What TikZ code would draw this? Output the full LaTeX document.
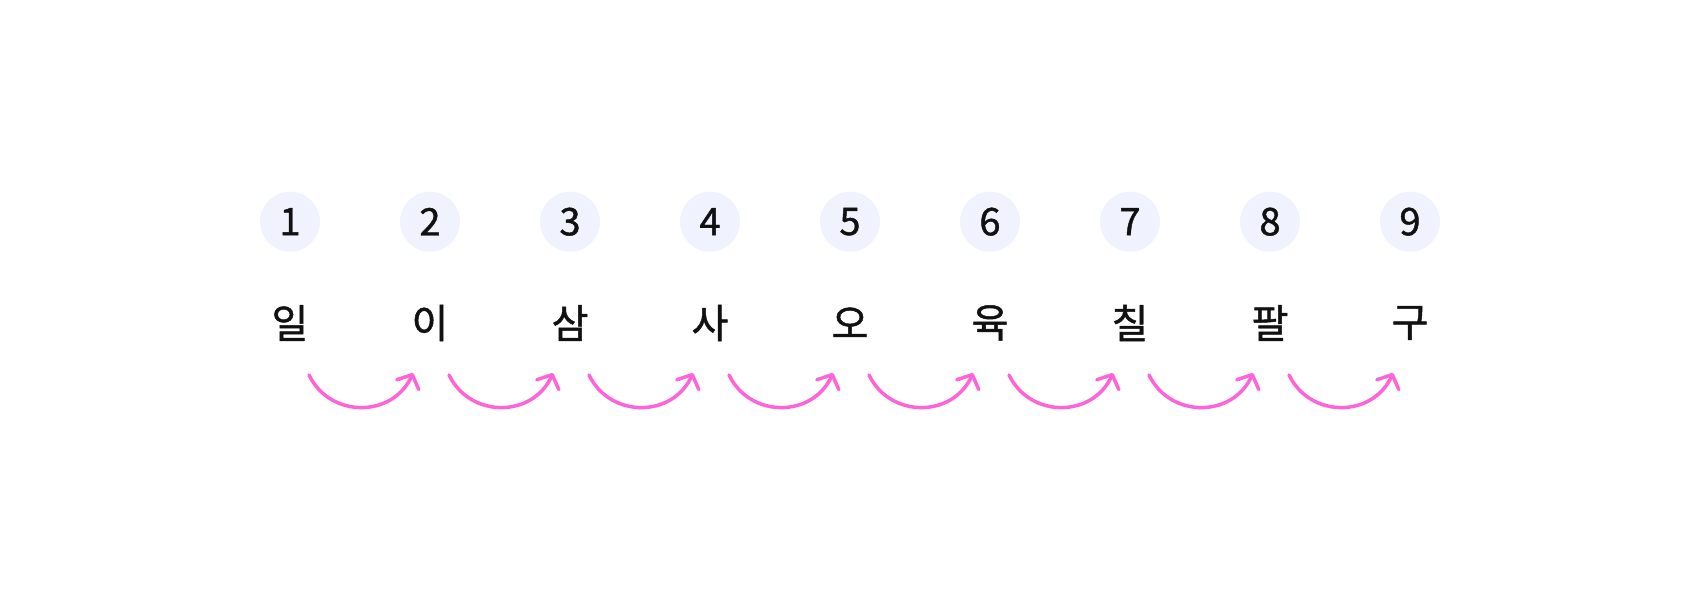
\documentclass[tikz,border=0pt]{standalone}
\usepackage{fontspec}
\setmainfont{Noto Sans CJK KR}[FakeBold=1.2]
\usetikzlibrary{arrows.meta}
\definecolor{dotfill}{HTML}{F0F3FE}
\definecolor{hopcol}{HTML}{FF63DA}
\definecolor{ink}{HTML}{111111}
\tikzset{
  num/.style={circle,fill=dotfill,minimum size=60pt,inner sep=0pt,text=ink,
    font=\fontsize{38}{40}\selectfont},
  word/.style={inner sep=0pt,text=ink,font=\fontsize{40}{44}\selectfont},
  hop/.style={draw=hopcol,line width=3.5pt,line cap=round,line join=round,
    -{Straight Barb[length=11pt,width=24pt,line width=3.5pt,round]},looseness=1.2}
}
\begin{document}
\begin{tikzpicture}[x=1pt,y=1pt]
   \useasboundingbox (0,0) rectangle (1700,595);
   % numbers and words
   \foreach \i/\w in {1/일,2/이,3/삼,4/사,5/오,6/육,7/칠,8/팔,9/구}{
     \node[num] (n\i) at ({290+140*(\i-1)},373.3) {\i};
     \node[word] (w\i) at ({290+140*(\i-1)},272) {\w};
     \coordinate (s\i) at ([shift={(19,-52)}]w\i.center);
     \coordinate (e\i) at ([shift={(-17,-50)}]w\i.center);
   }
   % hops
   \foreach \i [count=\j from 2] in {1,...,8}
     \draw[hop] (s\i) to[out=-64,in=-114] (e\j);
\end{tikzpicture}
\end{document}
